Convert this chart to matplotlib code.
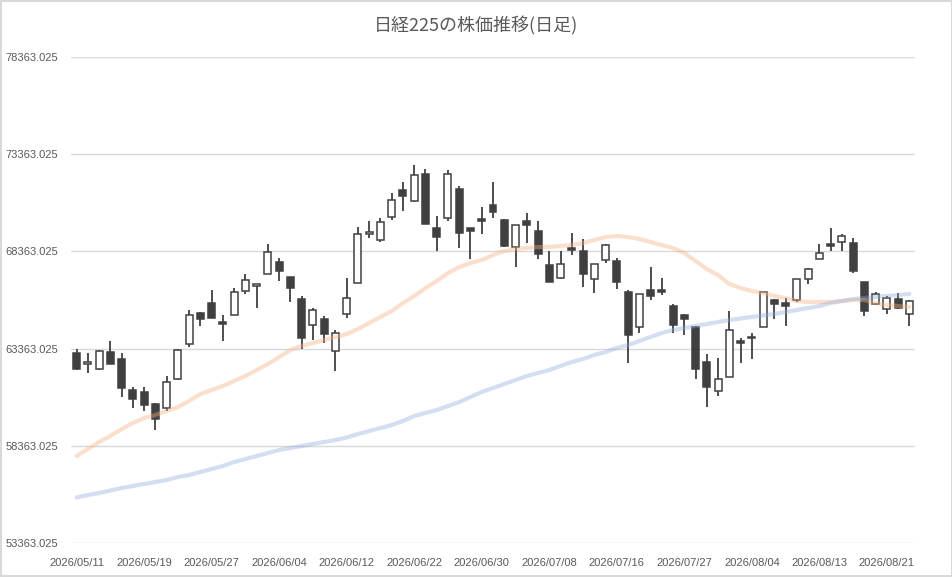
import matplotlib
matplotlib.use("Agg")
import matplotlib.pyplot as plt
import numpy as np
import pandas as pd

# trading days (TSE calendar: 7/20 and 8/11 are holidays)
holidays = ["2026-07-20", "2026-08-11"]
dates = pd.bdate_range("2026-05-11", "2026-08-25", freq="C", holidays=holidays)

opens = [63137, 62555, 62298, 63173, 62813, 61218, 61115, 60498, 60292, 61815,
         63584, 65179, 65724, 64716, 65076, 66310, 66568, 67185, 67802, 67046,
         65914, 64562, 64870, 63255, 65127, 66722, 69258, 68949, 70117, 71506,
         70971, 72329, 69551, 70066, 71557, 69551, 70030, 70750, 69963, 68605,
         69927, 69397, 67648, 66979, 68538, 68383, 66928, 67905, 67854, 66274,
         64459, 66362, 66362, 65554, 65076, 64459, 62658, 61166, 61887, 63754,
         63960, 64490, 65863, 65709, 65848, 66928, 67972, 68744, 68831, 68780,
         66773, 65642, 65385, 65899, 65127]
highs = [63342, 63121, 63291, 63754, 63152, 61403, 61372, 60565, 61969, 63358,
         65333, 65246, 66362, 65091, 66465, 67200, 66671, 68744, 68008, 67046,
         66069, 65436, 65040, 64320, 66979, 69603, 69942, 70066, 71352, 71917,
         72792, 72586, 70168, 72550, 71727, 69551, 70631, 71917, 70014, 69706,
         70323, 69911, 68383, 68383, 69294, 69016, 67699, 68728, 68008, 66362,
         66156, 67545, 66979, 65642, 65127, 64525, 63070, 62864, 65297, 63893,
         64150, 66259, 65930, 65950, 66928, 67524, 68744, 69551, 69258, 69037,
         66773, 66274, 66069, 66208, 65863]
lows = [62262, 62092, 62262, 62555, 60858, 60292, 60169, 59176, 60169, 61748,
        63461, 64541, 64922, 63769, 65076, 66156, 65467, 67185, 66856, 65776,
        63327, 63805, 63666, 62226, 64922, 66722, 69037, 68831, 69978, 70456,
        70920, 69757, 68399, 69911, 68553, 67957, 69243, 70066, 68605, 67545,
        68810, 67957, 66773, 66928, 68193, 66547, 66208, 67751, 66413, 62607,
        64150, 65878, 66120, 64150, 64047, 61815, 60374, 60940, 61887, 62607,
        62813, 64490, 64870, 64541, 65776, 66671, 67972, 68399, 68399, 67267,
        65055, 65590, 65158, 65385, 64541]
closes = [62314, 62658, 63239, 62555, 61321, 60755, 60446, 59726, 61629, 63276,
          65076, 64901, 64922, 64613, 66259, 66876, 66671, 68317, 67370, 66496,
          63924, 65349, 64099, 64150, 65950, 69243, 69361, 69860, 70992, 71197,
          72278, 69757, 69119, 72329, 69294, 69397, 69942, 70405, 68656, 69706,
          69706, 68214, 66773, 67699, 68450, 67185, 67699, 68677, 66773, 64047,
          66156, 66053, 66290, 64562, 64870, 62298, 61372, 61784, 64320, 63666,
          63893, 66259, 65642, 65539, 66928, 67442, 68265, 68656, 69155, 67370,
          65282, 66156, 65950, 65436, 65811]

ma_short = [57838, 58198, 58558, 58867, 59227, 59536, 59793, 59947, 60153, 60359,
            60667, 61028, 61233, 61439, 61696, 61953, 62262, 62571, 62931, 63291,
            63497, 63651, 63805, 63960, 64114, 64371, 64680, 64988, 65297, 65709,
            66069, 66480, 66840, 67252, 67560, 67766, 67921, 68178, 68383, 68486,
            68538, 68589, 68589, 68641, 68692, 68795, 68949, 69104, 69155, 69104,
            69001, 68846, 68692, 68538, 68281, 67869, 67458, 67149, 66686, 66480,
            66326, 66223, 66069, 65966, 65811, 65760, 65760, 65760, 65811, 65863,
            65863, 65709, 65606, 65554, 65503]
ma_long = [55704, 55832, 55935, 56064, 56192, 56295, 56398, 56501, 56604, 56758,
           56861, 57015, 57170, 57324, 57530, 57684, 57838, 57993, 58147, 58250,
           58353, 58456, 58558, 58661, 58790, 58970, 59124, 59279, 59433, 59639,
           59896, 60050, 60205, 60410, 60616, 60873, 61130, 61336, 61542, 61748,
           61953, 62108, 62262, 62468, 62674, 62828, 63034, 63188, 63394, 63548,
           63754, 63960, 64165, 64320, 64423, 64525, 64628, 64731, 64834, 64911,
           64988, 65066, 65143, 65246, 65349, 65451, 65554, 65709, 65811, 65914,
           65966, 66017, 66069, 66120, 66172]

y_ticks = [53363.025, 58363.025, 63363.025, 68363.025, 73363.025, 78363.025]

EDGE = "#404040"
TXT = "#595959"

fig = plt.figure(figsize=(9.53, 5.77), dpi=100)
fig.patch.set_edgecolor("#D9D9D9")
fig.patch.set_linewidth(1.5)
ax = fig.add_axes([71 / 953, 34 / 577, 844 / 953, 486 / 577])

x = np.arange(len(dates))
o = np.array(opens)
c = np.array(closes)
h = np.array(highs)
l = np.array(lows)

ax.vlines(x, l, h, color=EDGE, linewidth=1.3, zorder=2)
bottom = np.minimum(o, c)
height = np.maximum(np.abs(c - o), 60)
fill = [EDGE if cc < oo else "white" for oo, cc in zip(o, c)]
ax.bar(x, height, bottom=bottom, width=0.62, color=fill, edgecolor=EDGE,
       linewidth=1.1, zorder=3)

ax.plot(x, ma_short, color="#F4B183", alpha=0.4, linewidth=3, zorder=4,
        solid_capstyle="round")
ax.plot(x, ma_long, color="#8FAADC", alpha=0.38, linewidth=3, zorder=4,
        solid_capstyle="round")

ax.set_xlim(-0.5, len(dates) - 0.5)
ax.set_ylim(y_ticks[0], y_ticks[-1])
ax.set_yticks(y_ticks)
ax.set_yticklabels([f"{v:.3f}" for v in y_ticks])
ax.set_xticks(x[::6])
ax.set_xticklabels([d.strftime("%Y/%m/%d") for d in dates[::6]])
ax.grid(axis="y", color="#D9D9D9", linewidth=1)
ax.set_axisbelow(True)
for s in ax.spines.values():
    s.set_visible(False)
ax.tick_params(length=0, colors=TXT, labelsize=8)
ax.tick_params(axis="x", pad=11)
ax.tick_params(axis="y", pad=9)
for lab in ax.get_xticklabels() + ax.get_yticklabels():
    lab.set_fontfamily("Liberation Sans")

fig.text(0.5, 1 - 26 / 577, "日経225の株価推移(日足)", ha="center", va="center",
         fontsize=13, color=TXT, family=["Noto Sans CJK JP", "DejaVu Sans"])

fig.savefig("out.png", dpi=100)
